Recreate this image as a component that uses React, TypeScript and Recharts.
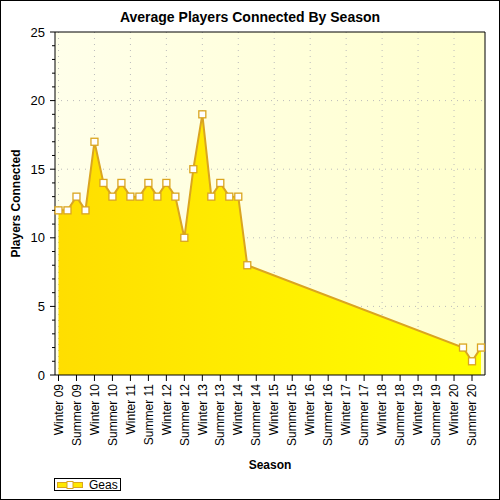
import { AreaChart, Area, XAxis, YAxis, CartesianGrid } from 'recharts';

const SEASONS = [
  'Winter 09', 'Spring 09', 'Summer 09', 'Fall 09',
  'Winter 10', 'Spring 10', 'Summer 10', 'Fall 10',
  'Winter 11', 'Spring 11', 'Summer 11', 'Fall 11',
  'Winter 12', 'Spring 12', 'Summer 12', 'Fall 12',
  'Winter 13', 'Spring 13', 'Summer 13', 'Fall 13',
  'Winter 14', 'Spring 14', 'Summer 14', 'Fall 14',
  'Winter 15', 'Spring 15', 'Summer 15', 'Fall 15',
  'Winter 16', 'Spring 16', 'Summer 16', 'Fall 16',
  'Winter 17', 'Spring 17', 'Summer 17', 'Fall 17',
  'Winter 18', 'Spring 18', 'Summer 18', 'Fall 18',
  'Winter 19', 'Spring 19', 'Summer 19', 'Fall 19',
  'Winter 20', 'Spring 20', 'Summer 20', 'Fall 20',
];

// average players per season, null where nothing was recorded
const GEAS = [
  12, 12, 13, 12,
  17, 14, 13, 14,
  13, 13, 14, 13,
  14, 13, 10, 15,
  19, 13, 14, 13,
  13, 8, null, null,
  null, null, null, null,
  null, null, null, null,
  null, null, null, null,
  null, null, null, null,
  null, null, null, null,
  null, 2, 1, 2,
];

const Y_TICKS = [0, 1, 2, 3, 4, 5, 6, 7, 8, 9, 10, 11, 12, 13, 14, 15, 16, 17, 18, 19, 20, 21, 22, 23, 24, 25];
const Y_GRID = [5, 10, 15, 20];
const X_GRID = SEASONS.filter((_, i) => i % 2 === 0);

const data = SEASONS.map((season, i) => ({ season, players: GEAS[i] }));

const FONT = '"Liberation Sans", Arial, sans-serif';
const GOLD = '#DAA520';

const SeasonTick = (props: any) => {
  const { x, y, payload } = props;
  return (
    <text
      x={x}
      y={y}
      transform={`rotate(-90 ${x} ${y})`}
      textAnchor="end"
      dy="0.35em"
      fontSize={12}
      fontFamily={FONT}
      fill="#000"
    >
      {payload.value}
    </text>
  );
};

// labels on every fifth value, short marks on the rest
const PlayerTick = (props: any) => {
  const { x, y, payload } = props;
  const major = payload.value % 5 === 0;
  const axisX = x + 10;
  return (
    <g>
      <line x1={axisX - (major ? 5 : 3)} y1={y} x2={axisX} y2={y} stroke="#000" />
      {major && (
        <text x={x} y={y} textAnchor="end" dy="0.35em" fontSize={13} fontFamily={FONT} fill="#000">
          {payload.value}
        </text>
      )}
    </g>
  );
};

const SquareDot = (props: any) => {
  const { cx, cy, payload, index } = props;
  if (payload == null || payload.players == null || cy == null) return <g key={`d-${index}`} />;
  return (
    <rect
      key={`d-${index}`}
      x={cx - 3.5}
      y={cy - 3.5}
      width={7}
      height={7}
      fill="#fff"
      stroke={GOLD}
      strokeWidth={1.3}
    />
  );
};

const yTitle = (props: any) => {
  const vb = props.viewBox;
  const cx = vb.x + 16;
  const cy = vb.y + vb.height / 2;
  return (
    <text
      x={cx}
      y={cy}
      transform={`rotate(-90 ${cx} ${cy})`}
      textAnchor="middle"
      dy="0.35em"
      fontSize={12}
      fontWeight="bold"
      fontFamily={FONT}
      fill="#000"
    >
      Players Connected
    </text>
  );
};

const xTitle = (props: any) => {
  const vb = props.viewBox;
  return (
    <text
      x={vb.x + vb.width / 2}
      y={vb.y + 94}
      textAnchor="middle"
      fontSize={12}
      fontWeight="bold"
      fontFamily={FONT}
      fill="#000"
    >
      Season
    </text>
  );
};

const App = () => {
  return (
    <div style={{ position: 'absolute', left: 0, top: 0, width: 500, height: 500, background: '#fff' }}>
      <div
        style={{
          position: 'absolute',
          left: 0,
          top: 9,
          width: 500,
          textAlign: 'center',
          fontFamily: FONT,
          fontWeight: 'bold',
          fontSize: 14,
          lineHeight: '16px',
          color: '#000',
        }}
      >
        Average Players Connected By Season
      </div>
      <AreaChart width={500} height={500} data={data} margin={{ top: 32, right: 15, bottom: 0, left: 0 }}>
        <defs>
          <linearGradient id="plotBg" x1="0" y1="0" x2="1" y2="0">
            <stop offset="0%" stopColor="#FFFFEA" />
            <stop offset="100%" stopColor="#FFFFCE" />
          </linearGradient>
          <linearGradient id="areaFill" x1="0" y1="0" x2="1" y2="0">
            <stop offset="0%" stopColor="#FFDE00" />
            <stop offset="100%" stopColor="#FFFF00" />
          </linearGradient>
        </defs>
        <CartesianGrid
          fill="url(#plotBg)"
          stroke="#BBBBBB"
          strokeDasharray="1 5"
          horizontalValues={Y_GRID}
          verticalValues={X_GRID}
        />
        <XAxis
          dataKey="season"
          height={125}
          interval={1}
          tickSize={6}
          tickMargin={3}
          tick={<SeasonTick />}
          axisLine={{ stroke: '#000' }}
          tickLine={{ stroke: '#000' }}
          padding={{ left: 3.5, right: 4 }}
          label={xTitle}
        />
        <XAxis
          xAxisId="top"
          orientation="top"
          dataKey="season"
          height={1}
          interval={1}
          mirror
          tick={false}
          tickSize={3}
          axisLine={{ stroke: '#000' }}
          tickLine={{ stroke: '#000' }}
          padding={{ left: 3.5, right: 4 }}
        />
        <YAxis
          width={55}
          domain={[0, 25]}
          ticks={Y_TICKS}
          interval={0}
          tickSize={5}
          tickMargin={5}
          tickLine={false}
          tick={<PlayerTick />}
          axisLine={{ stroke: '#000' }}
          label={yTitle}
        />
        <YAxis
          yAxisId="right"
          orientation="right"
          width={1}
          domain={[0, 25]}
          ticks={Y_TICKS}
          interval={0}
          mirror
          tick={false}
          tickSize={3}
          axisLine={{ stroke: '#000' }}
          tickLine={{ stroke: '#000' }}
        />
        <Area
          type="linear"
          dataKey="players"
          name="Geas"
          stroke={GOLD}
          strokeWidth={2}
          fill="url(#areaFill)"
          fillOpacity={1}
          connectNulls
          dot={SquareDot}
          activeDot={false}
          isAnimationActive={false}
        />
      </AreaChart>
      <svg style={{ position: 'absolute', left: 53, top: 477 }} width={70} height={16}>
        <rect x={1.5} y={1.5} width={66} height={12} fill="#fff" stroke="#000" />
        <rect x={4.5} y={5.5} width={25} height={5} fill="#FFE800" stroke={GOLD} />
        <rect x={14} y={4.5} width={6} height={7} fill="#fff" stroke={GOLD} />
        <text x={36} y={12} fontSize={12} fontFamily={FONT} fill="#000">
          Geas
        </text>
      </svg>
      <div
        style={{
          position: 'absolute',
          left: 0,
          top: 0,
          width: 500,
          height: 500,
          boxSizing: 'border-box',
          border: '1px solid #000',
          pointerEvents: 'none',
        }}
      />
    </div>
  );
};

export default App;
